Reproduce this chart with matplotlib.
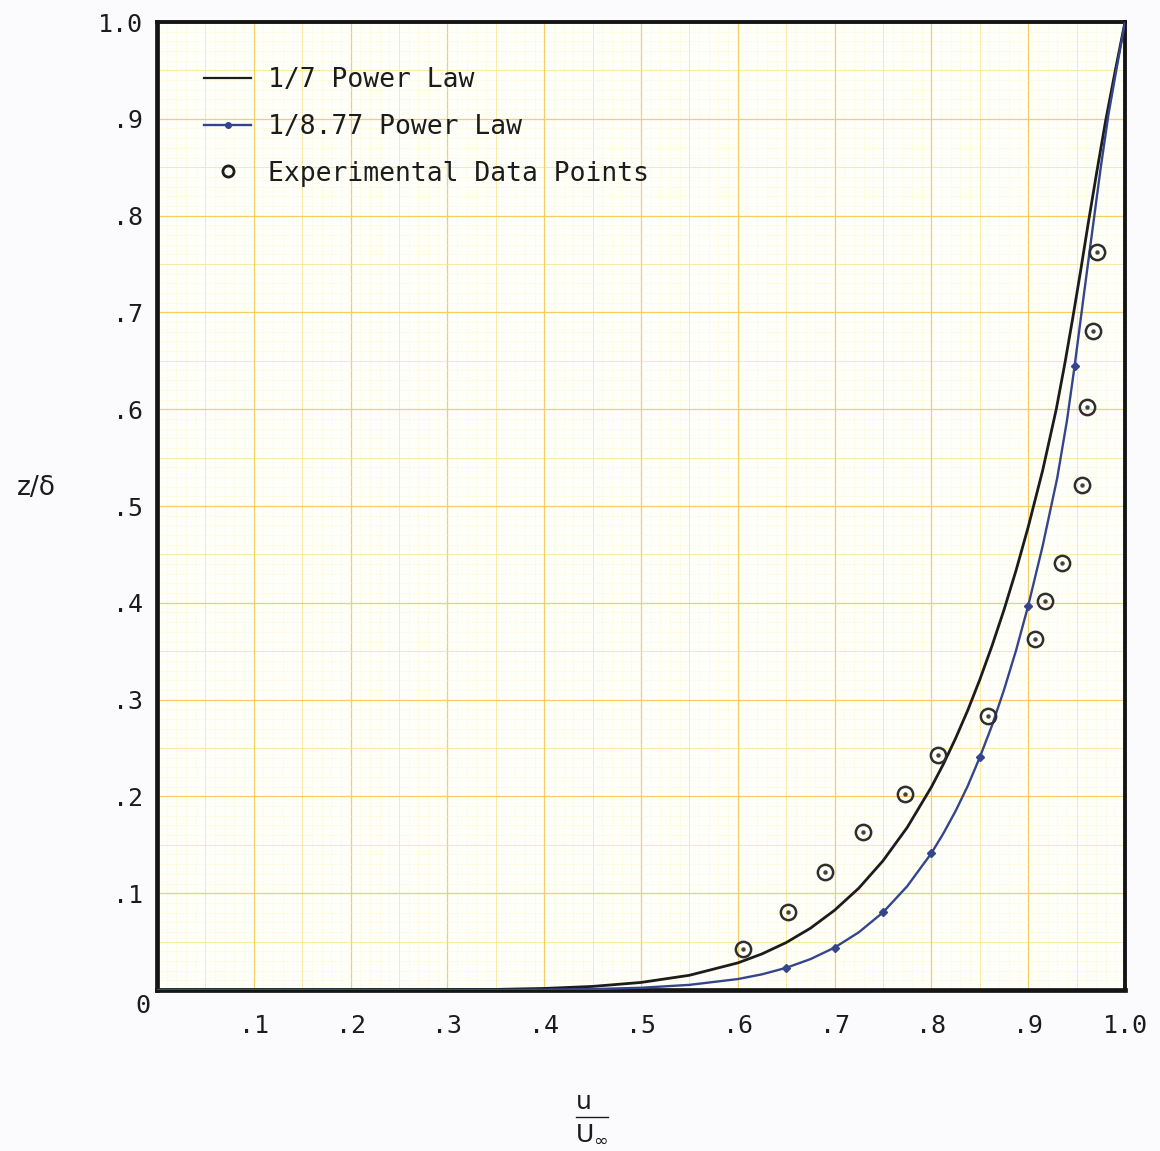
import numpy as np
import matplotlib
matplotlib.use("Agg")
import matplotlib.pyplot as plt
from matplotlib.lines import Line2D

# --- data ---
# 1/7 power law curve (u/U_inf, z/delta)
u_seventh = [0.0, 0.30, 0.35, 0.40, 0.45, 0.50, 0.55, 0.60, 0.625, 0.65, 0.675, 0.70, 0.725,
             0.75, 0.775, 0.80, 0.8125, 0.825, 0.8375, 0.85, 0.8625, 0.875, 0.8875, 0.90,
             0.915, 0.929, 0.938, 0.946, 0.954, 0.962, 0.971, 0.980, 0.990, 1.0]
z_seventh = [0.0, 0.0002, 0.0006, 0.0016, 0.0037, 0.0078, 0.0152, 0.0280, 0.0373, 0.0490,
             0.0638, 0.0824, 0.1052, 0.1335, 0.1679, 0.2097, 0.2336, 0.2600, 0.2888, 0.3206,
             0.3552, 0.3927, 0.4336, 0.4783, 0.537, 0.600, 0.648, 0.694, 0.742, 0.792,
             0.846, 0.898, 0.950, 1.0]

# 1/8.77 power law curve
u_877 = [0.0, 0.30, 0.35, 0.40, 0.45, 0.50, 0.55, 0.60, 0.625, 0.65, 0.675, 0.70, 0.725,
         0.75, 0.775, 0.80, 0.8125, 0.825, 0.8375, 0.85, 0.8625, 0.875, 0.8875, 0.90,
         0.915, 0.930, 0.940, 0.948, 0.958, 0.967, 0.975, 0.983, 0.9915, 1.0]
z_877 = [0.0, 0.0000, 0.0001, 0.0003, 0.0009, 0.0023, 0.0053, 0.0113, 0.0162, 0.0229,
         0.0319, 0.0438, 0.0596, 0.0802, 0.1072, 0.1413, 0.1620, 0.1849, 0.2107, 0.2404,
         0.2730, 0.3100, 0.3510, 0.3970, 0.4590, 0.529, 0.588, 0.645, 0.722, 0.790,
         0.850, 0.905, 0.953, 1.0]
marked_u = [0.65, 0.70, 0.75, 0.80, 0.85, 0.90, 0.948]

# experimental data points
u_exp = [0.605, 0.652, 0.690, 0.729, 0.773, 0.807, 0.858, 0.907, 0.917, 0.935,
         0.956, 0.961, 0.967, 0.971]
z_exp = [0.042, 0.081, 0.122, 0.163, 0.202, 0.243, 0.283, 0.363, 0.402, 0.441,
         0.522, 0.602, 0.681, 0.762]

tick_vals = [0.1, 0.2, 0.3, 0.4, 0.5, 0.6, 0.7, 0.8, 0.9, 1.0]
tick_labels = ['.1', '.2', '.3', '.4', '.5', '.6', '.7', '.8', '.9', '1.0']

mono = 'DejaVu Sans Mono'
ink = '#1c1c1c'
blue = '#34458c'

fig = plt.figure(figsize=(11.6, 11.51), dpi=100, facecolor='#fbfbfd')
ax = fig.add_axes([157 / 1160, 161 / 1151, 968 / 1160, 968 / 1151])
ax.set_facecolor('#fffffa')
ax.set_xlim(0, 1)
ax.set_ylim(0, 1)

# graph paper grid
ax.set_xticks(tick_vals)
ax.set_yticks(tick_vals)
ax.set_xticks(np.arange(0, 1.001, 0.01), minor=True)
ax.set_yticks(np.arange(0, 1.001, 0.01), minor=True)
ax.grid(which='minor', color='#fcefb4', lw=0.5, ls=(0, (1, 2)), zorder=0)
for v in np.arange(0.05, 1.0, 0.1):
    ax.axvline(v, color='#fbe9a0', lw=0.7, zorder=0.5)
    ax.axhline(v, color='#fbe9a0', lw=0.7, zorder=0.5)
ax.grid(which='major', color='#f5cf62', lw=0.9, zorder=0.6)
ax.set_axisbelow(True)

ax.tick_params(which='both', length=0)
ax.tick_params(axis='x', pad=17)
ax.tick_params(axis='y', pad=10)
ax.set_xticklabels(tick_labels, fontfamily=mono, fontsize=18, color=ink)
ax.set_yticklabels(tick_labels, fontfamily=mono, fontsize=18, color=ink)

for sp in ax.spines.values():
    sp.set_linewidth(2.8)
    sp.set_color('#151515')
ax.spines['left'].set_linewidth(3.4)
ax.spines['bottom'].set_linewidth(3.4)

# curves
ax.plot(u_seventh, z_seventh, color=ink, lw=2.0, zorder=3, solid_joinstyle='round',
        label='1/7 Power Law')
marks = [u_877.index(m) for m in marked_u]
ax.plot(u_877, z_877, color=blue, lw=1.7, zorder=3, marker='D', markersize=4,
        markevery=marks, solid_joinstyle='round', label='1/8.77 Power Law')

# experimental points: circle with small dot in the centre
ax.plot(u_exp, z_exp, ls='none', marker='o', markersize=11, mfc='none', mec='#2e2e2e',
        mew=1.8, zorder=4)
ax.plot(u_exp, z_exp, ls='none', marker='o', markersize=2.2, color='#444444', zorder=4)

handles = [
    Line2D([], [], color=ink, lw=1.6),
    Line2D([], [], color=blue, lw=1.7, marker='o', markersize=4, markevery=[0, -1]),
    Line2D([], [], ls='none', marker='o', markersize=8, mfc='none', mec=ink, mew=2),
]
labels = ['1/7 Power Law', '1/8.77 Power Law', 'Experimental Data Points']
ax.legend(handles, labels, loc='upper left', bbox_to_anchor=(0.049, 0.953),
          frameon=False, borderpad=0, borderaxespad=0, handlelength=1.75,
          handletextpad=0.65, labelspacing=0.78,
          prop={'family': mono, 'size': 19})
for t in ax.get_legend().get_texts():
    t.set_color(ink)

# origin label and axis titles
fig.text(143 / 1160, 1 - 1006 / 1151, '0', fontfamily=mono, fontsize=18, color=ink,
         ha='center', va='center')
fig.text(36 / 1160, 1 - 488 / 1151, 'z/δ', fontsize=19, color=ink, ha='center', va='center')
fig.text(584 / 1160, 1 - 1102 / 1151, 'u', fontsize=18, color=ink, ha='center', va='center')
fig.text(592 / 1160, 1 - 1134 / 1151, 'U$_\\infty$', fontsize=18, color=ink,
         ha='center', va='center')
fig.add_artist(Line2D([576 / 1160, 608 / 1160], [1 - 1117 / 1151, 1 - 1117 / 1151],
                      color=ink, lw=1.0))

fig.savefig('out.png', dpi=100, facecolor=fig.get_facecolor())
